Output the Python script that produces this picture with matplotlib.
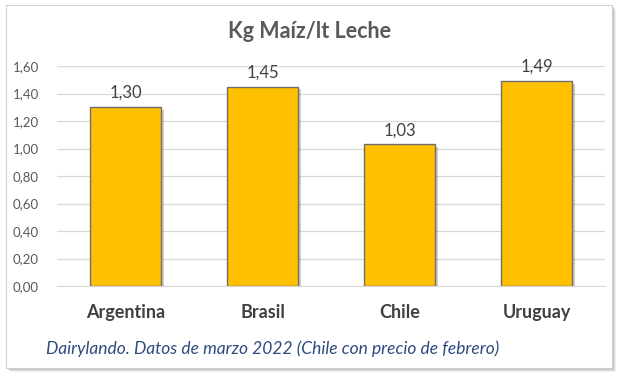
import matplotlib
matplotlib.use("Agg")
import matplotlib.pyplot as plt
from matplotlib.patches import Rectangle
import matplotlib.patheffects as pe

categories = ["Argentina", "Brasil", "Chile", "Uruguay"]
values = [1.30, 1.45, 1.03, 1.49]
value_labels = ["1,30", "1,45", "1,03", "1,49"]
yticks = [0.0, 0.2, 0.4, 0.6, 0.8, 1.0, 1.2, 1.4, 1.6]
ytick_labels = ["0,00", "0,20", "0,40", "0,60", "0,80", "1,00", "1,20", "1,40", "1,60"]

plt.rcParams['font.family'] = ['Lato', 'DejaVu Sans']

fig = plt.figure(figsize=(6.33, 3.83), dpi=100)
fig.patch.set_facecolor('white')

W, H = 633, 383
# shadow and border of chart area
for i, a in enumerate([0.06, 0.08, 0.10, 0.12]):
    off = 4 - i
    fig.add_artist(Rectangle(((6 + off) / W, 1 - (368 + off) / H), 606 / W, 363 / H,
                             transform=fig.transFigure, facecolor=(0, 0, 0, a),
                             edgecolor='none', zorder=0))
fig.add_artist(Rectangle((6 / W, 1 - 368 / H), 606 / W, 363 / H,
                         transform=fig.transFigure, facecolor='white',
                         edgecolor='#D0D0D0', linewidth=0.8, zorder=0.5))

ax = fig.add_axes([57 / W, 1 - 286 / H, 548 / W, 220 / H])
ax.set_zorder(2)
ax.set_facecolor('none')
x = range(len(categories))
bars = ax.bar(x, values, width=0.52, color='#FFC000', edgecolor='#6E6E6E',
              linewidth=1.0, zorder=3)
for b in bars:
    b.set_path_effects([pe.SimplePatchShadow(offset=(2, -2), alpha=0.25), pe.Normal()])

for xi, v, lab in zip(x, values, value_labels):
    ax.text(xi, v + 0.045, lab, ha='center', va='bottom', fontsize=12, color='#404040')

ax.set_ylim(0, 1.6)
ax.set_xlim(-0.5, len(categories) - 0.5)
ax.set_yticks(yticks)
ax.set_yticklabels(ytick_labels, fontsize=9.5, color='#595959')
ax.set_xticks(list(x))
ax.set_xticklabels(categories, fontsize=13, fontweight='bold', color='#404040')
ax.tick_params(axis='both', length=0)
ax.tick_params(axis='y', pad=13)
ax.tick_params(axis='x', pad=13)
ax.grid(axis='y', color='#D9D9D9', linewidth=0.9, zorder=0)
for s in ['top', 'right', 'left']:
    ax.spines[s].set_visible(False)
ax.spines['bottom'].set_color('#D9D9D9')

fig.text(310 / W, 1 - 32 / H, "Kg Maíz/lt Leche", ha='center', va='center',
         fontsize=15.5, fontweight='bold', color='#595959', zorder=3)
fig.text(46 / W, 1 - 349 / H, "Dairylando. Datos de marzo 2022 (Chile con precio de febrero)",
         ha='left', va='center', fontsize=12.5, fontstyle='italic', color='#2F4A7F', zorder=3)

fig.savefig("out.png", dpi=100, facecolor='white')
